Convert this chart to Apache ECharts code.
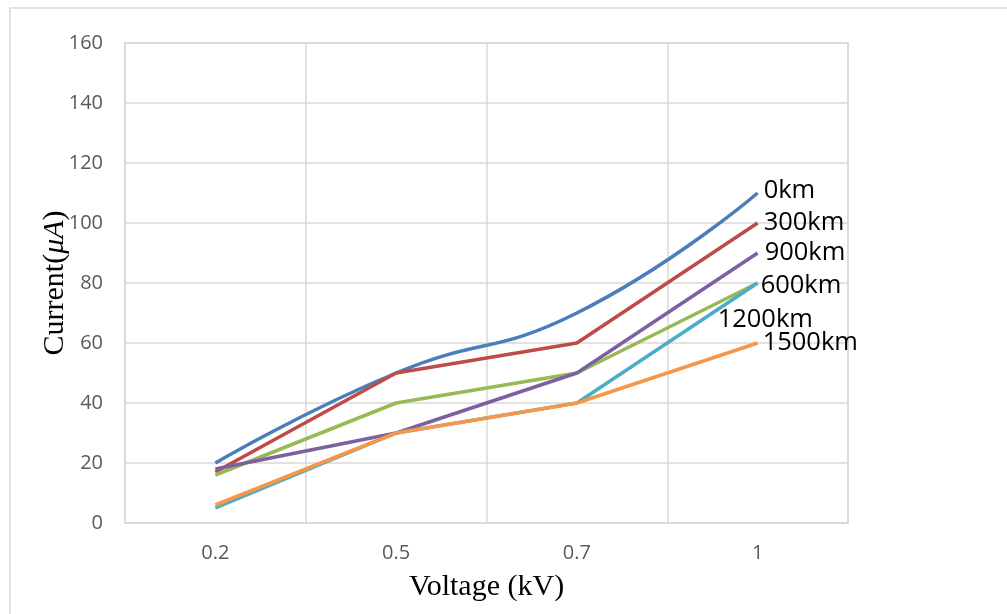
<!DOCTYPE html>
<html><head><meta charset="utf-8">
<script src="https://cdn.jsdelivr.net/npm/echarts@6/dist/echarts.min.js"></script>
<style>html,body{margin:0;padding:0;background:#fff}#c{width:1007px;height:614px}</style>
</head><body><div id="c"></div>
<script>
const categories = ['0.2', '0.5', '0.7', '1'];
const yTicks = [0, 20, 40, 60, 80, 100, 120, 140, 160];
const seriesNames = ['0km', '300km', '600km', '900km', '1200km', '1500km'];
const s0km = [20, 50, 70, 110];
const s300km = [17, 50, 60, 100];
const s600km = [16, 40, 50, 80];
const s900km = [18, 30, 50, 90];
const s1200km = [5, 30, 40, 80];
const s1500km = [6, 30, 40, 60];

const values = [s0km, s300km, s600km, s900km, s1200km, s1500km];
const colors = ['#4a7ebb', '#be4b48', '#98b954', '#7d60a0', '#4bacc6', '#f79646'];
const labelOffsets = [[1, -2], [1, 0], [-2, 3], [2, 0], [-45, 37], [0, 0]];
const smoothFlags = [true, false, false, false, false, false];

const chart = echarts.init(document.getElementById('c'), null, {renderer: 'canvas'});
chart.setOption({
  animation: false,
  backgroundColor: '#fff',
  graphic: [{
    type: 'rect', shape: {x: 10, y: 8, width: 1100, height: 700},
    style: {fill: 'none', stroke: '#d9d9d9', lineWidth: 1.5}, z: -1
  }],
  grid: {left: 125, top: 43, width: 723, height: 480, show: true, borderColor: '#d9d9d9', borderWidth: 1.5},
  xAxis: {
    type: 'category', data: categories, boundaryGap: true,
    axisLine: {show: true, lineStyle: {color: '#d9d9d9', width: 1.5}},
    axisTick: {show: false},
    splitLine: {show: true, lineStyle: {color: '#d9d9d9', width: 1.5}},
    axisLabel: {color: '#595959', fontSize: 20, fontFamily: 'Open Sans', margin: 20},
    name: 'Voltage (kV)', nameLocation: 'middle', nameGap: 49, nameMoveOverlap: false,
    nameTextStyle: {fontFamily: 'Liberation Serif', fontSize: 30, color: '#000'}
  },
  yAxis: {
    type: 'value', min: yTicks[0], max: yTicks[yTicks.length - 1], interval: yTicks[1] - yTicks[0],
    axisLine: {show: true, lineStyle: {color: '#d9d9d9', width: 1.5}},
    axisTick: {show: false},
    splitLine: {show: true, lineStyle: {color: '#d9d9d9', width: 1.5}},
    axisLabel: {color: '#595959', fontSize: 20, fontFamily: 'Open Sans', margin: 22},
    name: '{n|Current(}{i|μA}{n|)}', nameLocation: 'middle', nameGap: 55, nameMoveOverlap: false,
    nameTextStyle: {
      fontFamily: 'Liberation Serif', fontSize: 30, color: '#000',
      rich: {
        n: {fontFamily: 'Liberation Serif', fontSize: 30, color: '#000'},
        i: {fontFamily: 'Liberation Serif', fontSize: 30, fontStyle: 'italic', color: '#000'}
      }
    }
  },
  series: seriesNames.map((name, i) => ({
    name: name, type: 'line', data: values[i], smooth: smoothFlags[i],
    symbol: 'none', lineStyle: {color: colors[i], width: 3.5},
    itemStyle: {color: colors[i]},
    endLabel: {show: true, formatter: '{a}', color: '#000', fontSize: 25.5,
      fontFamily: 'Open Sans', offset: labelOffsets[i], distance: 5}
  }))
});
</script></body></html>
